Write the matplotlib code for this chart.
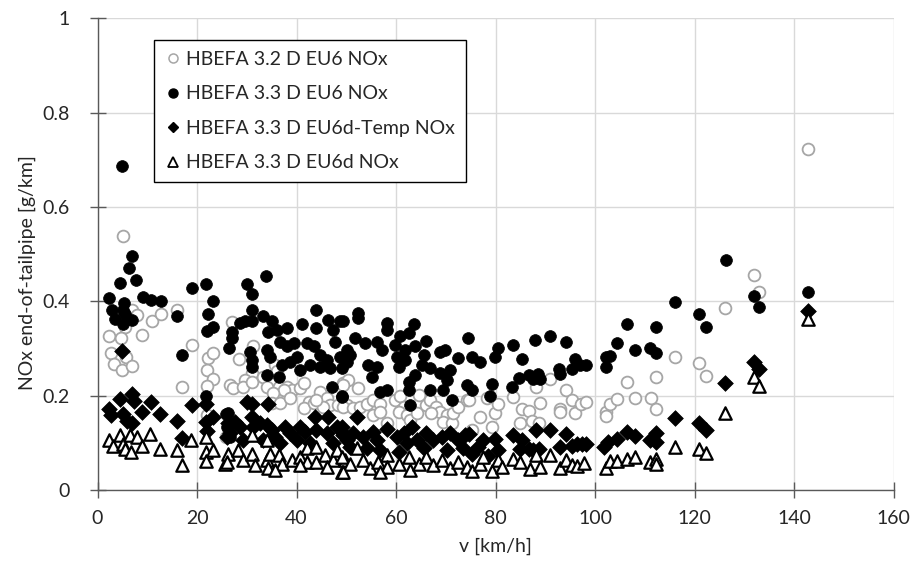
import matplotlib
matplotlib.use("Agg")
import matplotlib.pyplot as plt
from matplotlib.lines import Line2D

# HBEFA 3.2 D EU6 NOx (grey open circles)
v32 = [5.1, 7.0, 7.9, 5.6, 2.4, 4.7, 9.0, 11.0, 12.8, 16.0, 2.8, 3.4, 5.0, 5.8, 6.9,
       17.0, 18.9, 22.2, 23.2, 21.9, 23.2, 21.9, 21.9, 25.9,
       27.0, 28.5, 31.2, 31.0, 29.7, 26.6, 27.3, 29.3, 31.0, 35.7, 36.0, 33.3, 34.0, 36.4,
       38.0, 39.0, 37.4, 35.3, 35.0, 36.7, 38.7, 40.7, 41.4, 42.4, 41.4, 43.4, 44.7, 46.1,
       46.7, 48.4, 49.4, 50.1, 45.4, 44.0,
       50.4, 52.4, 49.4, 49.4, 51.4, 52.8, 54.1, 55.4, 56.8, 55.4, 56.8, 58.1, 59.8, 60.8,
       61.5, 60.5, 62.1, 62.8, 64.1, 64.5, 66.1, 66.8, 68.1, 68.8, 67.1, 70.2, 69.5, 71.2,
       71.5, 72.5, 74.2,
       75.2, 76.9, 79.2, 79.8, 80.5, 74.6, 78.2,
       83.4, 85.2, 86.6, 84.9, 87.4, 88.8, 88.1, 88.9, 91.0, 92.9, 92.9, 94.1, 95.3, 95.9,
       97.1, 98.1, 102.1, 102.1, 103.0, 104.4, 106.4, 108.0, 111.2, 112.2, 112.2, 116.0,
       120.8, 122.2, 126.0, 131.9, 132.9, 142.7]
nox32 = [0.539, 0.383, 0.372, 0.345, 0.326, 0.323, 0.330, 0.359, 0.373, 0.381, 0.290, 0.268, 0.254, 0.282, 0.263,
         0.219, 0.307, 0.281, 0.290, 0.254, 0.237, 0.222, 0.159, 0.113,
         0.356, 0.278, 0.306, 0.248, 0.234, 0.223, 0.216, 0.220, 0.230, 0.266, 0.252, 0.241, 0.220, 0.220,
         0.220, 0.213, 0.213, 0.206, 0.185, 0.185, 0.195, 0.216, 0.227, 0.188, 0.174, 0.185, 0.209, 0.195,
         0.181, 0.181, 0.227, 0.181, 0.177, 0.192,
         0.234, 0.216, 0.223, 0.177, 0.174, 0.177, 0.184, 0.191, 0.184, 0.160, 0.167, 0.142, 0.191, 0.199,
         0.177, 0.167, 0.160, 0.149, 0.163, 0.202, 0.181, 0.191, 0.177, 0.167, 0.163, 0.160, 0.146, 0.142,
         0.163, 0.177, 0.191,
         0.127, 0.155, 0.134, 0.163, 0.184, 0.191, 0.195,
         0.198, 0.173, 0.168, 0.143, 0.148, 0.143, 0.220, 0.185, 0.236, 0.173, 0.166, 0.213, 0.192, 0.165,
         0.184, 0.187, 0.166, 0.157, 0.182, 0.194, 0.230, 0.196, 0.196, 0.240, 0.172, 0.283,
         0.270, 0.242, 0.387, 0.456, 0.420, 0.723]

# HBEFA 3.3 D EU6 NOx (black filled circles)
v33 = [5.0, 6.9, 6.35, 4.57, 7.8, 2.4, 9.05, 10.8, 12.8, 5.36, 2.98, 5.2, 5.6, 3.5, 5.1, 6.9,
       16.0, 17.0, 18.9, 21.8, 23.2, 22.2, 23.2, 21.9, 21.7, 25.9, 33.9,
       30.1, 31.1, 31.1, 33.2, 35.0, 44.0, 46.4, 48.7, 41.0, 44.0, 47.4, 27.0, 28.7, 29.7, 31.0,
       34.3, 36.0, 38.0, 27.0, 26.5, 30.7, 31.0, 31.0, 34.0, 34.7, 36.7, 38.0, 39.4, 40.0, 42.0,
       43.4, 44.7, 46.1, 47.7, 48.7, 50.1, 37.0, 38.7, 40.7, 42.7, 44.7, 46.7, 34.0, 36.4, 47.1,
       49.1, 26.3, 26.6, 26.0,
       52.4, 52.4, 49.3, 58.1, 58.1, 63.6, 62.5, 60.8, 66.1, 51.8, 53.8, 56.1, 57.1, 50.1, 50.8,
       59.8, 61.8, 63.8, 60.1, 61.8, 65.5, 68.8, 69.8, 72.5, 74.5, 49.1, 54.4, 56.1, 55.1, 60.5,
       65.1, 66.8, 68.8, 70.8, 63.8, 62.5, 62.5, 66.8, 70.2, 69.5, 74.2, 56.8, 58.1, 49.1, 71.2,
       62.8,
       75.2, 76.9, 79.8, 80.5, 75.2, 79.2, 78.9,
       83.5, 85.2, 87.9, 91.0, 94.1, 83.2, 84.7, 86.6, 87.6, 88.6, 88.9, 92.8, 92.9, 95.3, 95.9,
       96.9, 98.1, 102.1, 103.0, 102.1, 104.4, 106.4, 108.0, 111.0, 112.2, 112.2, 116.0, 120.8,
       122.2, 126.2, 131.9, 132.9, 142.7]
nox33 = [0.687, 0.496, 0.471, 0.439, 0.446, 0.407, 0.410, 0.404, 0.401, 0.397, 0.383, 0.383, 0.374, 0.362, 0.352, 0.360,
         0.370, 0.286, 0.429, 0.438, 0.400, 0.374, 0.346, 0.338, 0.200, 0.162, 0.455,
         0.438, 0.416, 0.382, 0.370, 0.358, 0.382, 0.361, 0.358, 0.352, 0.343, 0.340, 0.336, 0.354, 0.358, 0.358,
         0.336, 0.340, 0.343, 0.322, 0.301, 0.294, 0.276, 0.262, 0.298, 0.283, 0.315, 0.305, 0.312, 0.283, 0.312,
         0.305, 0.287, 0.276, 0.315, 0.283, 0.273, 0.266, 0.273, 0.255, 0.266, 0.262, 0.259, 0.244, 0.240, 0.220,
         0.197, 0.163, 0.114, 0.135,
         0.375, 0.365, 0.358, 0.354, 0.340, 0.353, 0.333, 0.326, 0.317, 0.322, 0.312, 0.315, 0.298, 0.298, 0.287,
         0.308, 0.298, 0.305, 0.283, 0.276, 0.287, 0.294, 0.298, 0.280, 0.322, 0.259, 0.266, 0.262, 0.241, 0.262,
         0.266, 0.259, 0.248, 0.255, 0.245, 0.230, 0.213, 0.213, 0.234, 0.213, 0.223, 0.209, 0.213, 0.199, 0.191,
         0.181,
         0.283, 0.272, 0.283, 0.302, 0.212, 0.226, 0.201,
         0.307, 0.279, 0.319, 0.326, 0.315, 0.219, 0.239, 0.244, 0.237, 0.247, 0.237, 0.258, 0.247, 0.258, 0.279,
         0.265, 0.265, 0.283, 0.284, 0.261, 0.312, 0.353, 0.297, 0.302, 0.290, 0.346, 0.399, 0.374,
         0.346, 0.487, 0.411, 0.389, 0.421]

# HBEFA 3.3 D EU6d-Temp NOx (black diamonds)
v33t = [5.0, 2.4, 2.8, 4.6, 6.9, 7.4, 5.2, 6.0, 6.9, 9.0, 10.8, 12.6, 16.0, 18.9, 17.0, 21.8,
        21.8, 23.2, 22.0,
        30.0, 31.0, 34.3, 26.3, 26.6, 27.6, 28.7, 31.0, 31.3, 32.7, 34.0, 35.0, 35.7, 37.7, 38.7,
        40.7, 41.7, 43.7, 46.4, 44.0, 46.1, 48.1, 49.4, 26.0, 29.3, 33.3, 36.7, 40.0, 42.7, 47.4, 50.1,
        52.1, 49.1, 50.1, 51.4, 53.4, 55.4, 56.1, 58.1, 60.1, 61.5, 63.1, 62.1, 64.1, 66.1, 67.5,
        69.2, 70.8, 72.5, 73.8, 50.8, 54.1, 56.8, 60.5, 65.5, 70.2, 73.5,
        74.6, 76.5, 79.8, 75.2, 78.5, 80.5, 77.5,
        83.4, 85.2, 84.9, 86.6, 87.6, 88.1, 88.8, 91.0, 92.9, 94.1, 95.3, 96.3, 97.3, 98.1, 101.8,
        102.6, 104.4, 106.4, 108.0, 111.0, 112.2, 112.2, 116.0, 120.8, 122.2, 126.0, 131.9, 132.9, 142.7]
nox33t = [0.295, 0.173, 0.159, 0.194, 0.205, 0.190, 0.162, 0.148, 0.143, 0.166, 0.187, 0.162, 0.148, 0.180, 0.111, 0.184,
          0.145, 0.155, 0.125,
          0.188, 0.184, 0.183, 0.142, 0.121, 0.146, 0.135, 0.156, 0.135, 0.142, 0.139, 0.128, 0.114, 0.135, 0.121,
          0.135, 0.124, 0.156, 0.156, 0.128, 0.121, 0.135, 0.117, 0.114, 0.107, 0.107, 0.100, 0.107, 0.100, 0.100, 0.107,
          0.156, 0.135, 0.114, 0.121, 0.114, 0.124, 0.107, 0.131, 0.114, 0.121, 0.135, 0.100, 0.107, 0.121, 0.107,
          0.114, 0.121, 0.107, 0.117, 0.093, 0.089, 0.085, 0.082, 0.089, 0.085, 0.089,
          0.120, 0.092, 0.110, 0.078, 0.074, 0.085, 0.106,
          0.117, 0.106, 0.088, 0.088, 0.085, 0.127, 0.088, 0.127, 0.092, 0.119, 0.095, 0.099, 0.099, 0.099, 0.093,
          0.102, 0.110, 0.124, 0.115, 0.106, 0.122, 0.102, 0.153, 0.143, 0.129, 0.227, 0.273, 0.257, 0.379]

# HBEFA 3.3 D EU6d NOx (open triangles)
v33d = [2.25, 3.1, 4.6, 5.2, 5.6, 6.55, 6.7, 7.9, 8.85, 10.6, 12.6, 15.9, 17.0, 18.8, 21.8, 21.8,
        21.8, 23.2, 25.7,
        31.0, 34.0, 26.3, 28.3, 26.0, 29.3, 31.0, 31.7, 34.0, 34.7, 36.4, 37.0, 39.0, 40.7, 42.0,
        42.0, 44.0, 44.0, 45.7, 47.4, 48.1, 49.7, 34.3, 35.7, 40.7, 46.1, 49.1,
        52.1, 49.1, 50.8, 53.4, 54.8, 56.4, 58.1, 58.1, 60.5, 62.5, 62.8, 64.5, 66.1, 67.5, 69.2,
        70.8, 72.5, 74.2, 49.3, 56.8,
        75.2, 76.9, 79.2, 80.5, 77.5, 81.2,
        83.4, 84.9, 86.9, 88.1, 88.9, 91.0, 92.9, 94.1, 95.3, 96.3, 97.7, 102.1, 103.0, 104.4,
        106.4, 108.0, 111.0, 112.2, 112.2, 116.0, 120.8, 122.2, 126.0, 131.9, 132.9, 142.7]
nox33d = [0.106, 0.095, 0.117, 0.099, 0.088, 0.117, 0.081, 0.113, 0.095, 0.120, 0.088, 0.085, 0.054, 0.107, 0.113, 0.081,
          0.062, 0.085, 0.056,
          0.117, 0.107, 0.078, 0.085, 0.061, 0.064, 0.078, 0.054, 0.064, 0.078, 0.075, 0.057, 0.064, 0.071, 0.089,
          0.061, 0.092, 0.061, 0.075, 0.064, 0.085, 0.064, 0.047, 0.043, 0.054, 0.050, 0.040,
          0.089, 0.071, 0.057, 0.064, 0.047, 0.061, 0.075, 0.050, 0.057, 0.071, 0.043, 0.057, 0.071, 0.054, 0.064,
          0.047, 0.061, 0.050, 0.040, 0.040,
          0.042, 0.057, 0.042, 0.064, 0.071, 0.050,
          0.067, 0.060, 0.046, 0.076, 0.050, 0.076, 0.048, 0.064, 0.053, 0.051, 0.058, 0.048, 0.062, 0.062,
          0.067, 0.071, 0.060, 0.067, 0.057, 0.093, 0.088, 0.079, 0.163, 0.241, 0.221, 0.363]

labels = ["HBEFA 3.2 D EU6 NOx", "HBEFA 3.3 D EU6 NOx",
          "HBEFA 3.3 D EU6d-Temp NOx", "HBEFA 3.3 D EU6d NOx"]
x_ticks = [0, 20, 40, 60, 80, 100, 120, 140, 160]
y_ticks = [0, 0.2, 0.4, 0.6, 0.8, 1.0]
y_ticklabels = ["0", "0.2", "0.4", "0.6", "0.8", "1"]

plt.rcParams['font.family'] = ['Lato', 'DejaVu Sans']
fig = plt.figure(figsize=(9.13, 5.63), dpi=100)
ax = fig.add_axes([0.1068, 0.1288, 0.8722, 0.8392])

grey = '#a6a6a6'
ax.scatter(v32, nox32, s=72, facecolors='white', edgecolors=grey, linewidths=1.3, zorder=3)
ax.scatter(v33, nox33, s=72, facecolors='black', edgecolors='black', linewidths=0.5, zorder=4)
ax.scatter(v33t, nox33t, s=64, marker='D', facecolors='black', edgecolors='black', linewidths=0.5, zorder=5)
ax.scatter(v33d, nox33d, s=80, marker='^', facecolors='white', edgecolors='black', linewidths=1.6, zorder=6)

ax.set_xlim(0, 160)
ax.set_ylim(0, 1)
ax.set_xticks(x_ticks)
ax.set_yticks(y_ticks)
ax.set_yticklabels(y_ticklabels)
ax.grid(True, color='#d9d9d9', linewidth=1.0, zorder=0)
ax.set_axisbelow(True)
for s in ['top', 'right']:
    ax.spines[s].set_visible(False)
for s in ['left', 'bottom']:
    ax.spines[s].set_color('#595959')
    ax.spines[s].set_linewidth(1.0)
ax.tick_params(direction='inout', length=11.5, width=1.0, color='#595959',
               labelsize=14, labelcolor='#262626')
ax.tick_params(axis='y', pad=14)
ax.tick_params(axis='x', pad=8)
ax.set_xlabel("v [km/h]", fontsize=14, color='#262626', labelpad=8)
ax.set_ylabel("NOx end-of-tailpipe [g/km]", fontsize=14, color='#262626')
ax.yaxis.set_label_coords(-0.077, 0.462)

handles = [
    Line2D([], [], linestyle='none', marker='o', markersize=6.5, markerfacecolor='white',
           markeredgecolor=grey, markeredgewidth=1.1),
    Line2D([], [], linestyle='none', marker='o', markersize=6.5, markerfacecolor='black',
           markeredgecolor='black'),
    Line2D([], [], linestyle='none', marker='D', markersize=5.5, markerfacecolor='black',
           markeredgecolor='black'),
    Line2D([], [], linestyle='none', marker='^', markersize=6.5, markerfacecolor='white',
           markeredgecolor='black', markeredgewidth=1.3),
]
leg = ax.legend(handles, labels, loc='upper left', bbox_to_anchor=(0.071, 0.953),
                borderaxespad=0, fancybox=False, edgecolor='black', framealpha=1,
                fontsize=14.0, handlelength=0.8, handletextpad=0.3, labelspacing=0.9,
                borderpad=0.55)
leg.get_frame().set_linewidth(1.0)
leg.set_zorder(10)
for t in leg.get_texts():
    t.set_color('#262626')

fig.savefig("out.png", dpi=100)
